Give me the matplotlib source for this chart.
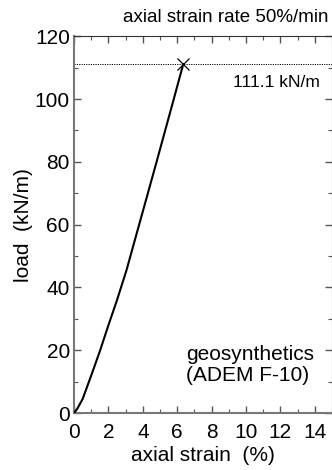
import matplotlib
matplotlib.use("Agg")
import matplotlib.pyplot as plt
from matplotlib.ticker import MultipleLocator

plt.rcParams["font.sans-serif"] = ["Liberation Sans", "DejaVu Sans"]
plt.rcParams["font.family"] = "sans-serif"
FONT = "Liberation Sans"

# load-strain curve
strain = [0, 0.2, 0.5, 1.0, 1.5, 2.0, 2.5, 3.05, 4.8, 5.8, 6.35]
load = [0, 1.5, 4.5, 12, 19.7, 28, 36, 45.5, 80, 100, 111.1]
peak_strain, peak_load = 6.35, 111.1

fig = plt.figure(figsize=(3.32, 4.70), dpi=100)
ax = fig.add_axes([0.223, 0.121, 0.777, 0.802])

ax.plot(strain, load, color="black", lw=1.5, zorder=3)
ax.plot([peak_strain], [peak_load], marker="x", ms=9, mew=0.9,
        color="black", ls="none", zorder=4)
ax.axhline(peak_load, color="black", ls=(0, (1.2, 1.2)), lw=0.7)

ax.set_xlim(0, 15)
ax.set_ylim(0, 120)
ax.xaxis.set_major_locator(MultipleLocator(2))
ax.xaxis.set_minor_locator(MultipleLocator(1))
ax.yaxis.set_major_locator(MultipleLocator(20))
ax.yaxis.set_minor_locator(MultipleLocator(10))
ax.tick_params(which="both", direction="in", top=True, right=True,
               labelsize=15, color="#555555")
ax.tick_params(axis="x", pad=7)
ax.tick_params(axis="y", pad=3)
ax.tick_params(which="major", length=5, width=1)
ax.tick_params(which="minor", length=3, width=0.8)
for lab in ax.get_xticklabels() + ax.get_yticklabels():
    lab.set_family(FONT)

for side in ["left", "bottom"]:
    ax.spines[side].set_color("#777777")
    ax.spines[side].set_linewidth(1.5)
for side in ["top", "right"]:
    ax.spines[side].set_color("#333333")
    ax.spines[side].set_linewidth(0.8)

ax.set_xlabel("axial strain  (%)", fontsize=15, labelpad=3, family=FONT)
ax.set_ylabel("load  (kN/m)", fontsize=15, labelpad=1, family=FONT)

ax.text(14.3, 105.4, "111.1 kN/m", fontsize=12.5, ha="right", va="center",
        family=FONT)
fig.text(0.988, 0.962, "axial strain rate 50%/min", fontsize=13.5,
         ha="right", va="center", family=FONT)
ax.text(6.5, 15.3, "geosynthetics\n(ADEM F-10)", fontsize=15,
        ha="left", va="center", linespacing=1.15, family=FONT)

fig.savefig("out.png", dpi=100)
